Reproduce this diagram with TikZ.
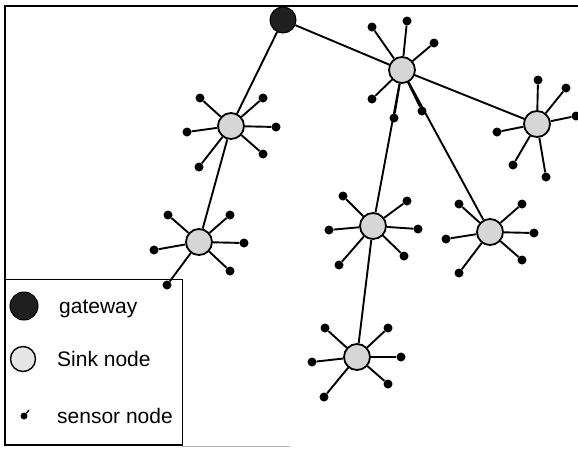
\documentclass[tikz,border=0pt]{standalone}
\usepackage{fontspec}
\setmainfont{Liberation Sans}
\begin{document}
\begin{tikzpicture}[x=1pt,y=-1pt,
  link/.style={line width=1.9pt},
  sink/.style={circle,draw,line width=1.8pt,fill=gray!32,minimum size=26pt,inner sep=0pt},
  gate/.style={circle,draw,line width=1pt,fill=black!88,minimum size=26pt,inner sep=0pt},
  sensor/.style={circle,fill=black,minimum size=9pt,inner sep=0pt},
  legtext/.style={anchor=base west,inner sep=0pt,font=\fontsize{21}{24}\selectfont}]
\useasboundingbox (0,0) rectangle (578,448);

% outer frame
\draw[line width=1.2pt] (578,6) -- (5,6) -- (5,445) -- (182,445);
\draw[line width=0.6pt,gray!60] (182,446) -- (290,446);

% gateway and sink nodes
\node[gate] (gw) at (283,20) {};
\node[sink] (sA) at (402,70) {};
\node[sink] (sB) at (231,126) {};
\node[sink] (sC) at (199,242) {};
\node[sink] (sD) at (537,124) {};
\node[sink] (sE) at (373,226) {};
\node[sink] (sF) at (490,232) {};
\node[sink] (sG) at (357,357) {};

% backbone links
\draw[link] (gw) -- (sA);
\draw[link] (gw) -- (sB);
\draw[link] (sB) -- (sC);
\draw[link] (sA) -- (sD);
\draw[link] (sA) -- (sE);
\draw[link] (sA) -- (sF);
\draw[link] (sE) -- (sG);

% sensor nodes around each sink
\foreach \x/\y [count=\i] in {372/27,407/21,434/43,372/99,394/118,422/111}
  {\node[sensor] (sA-\i) at (\x,\y) {}; \draw[link] (sA) -- (sA-\i);}
\foreach \x/\y [count=\i] in {200/98,263/98,276/127,187/132,263/154,199/167}
  {\node[sensor] (sB-\i) at (\x,\y) {}; \draw[link] (sB) -- (sB-\i);}
\foreach \x/\y [count=\i] in {168/215,230/215,244/243,154/250,230/271,167/285}
  {\node[sensor] (sC-\i) at (\x,\y) {}; \draw[link] (sC) -- (sC-\i);}
\foreach \x/\y [count=\i] in {538/80,566/88,576/116,497/132,513/165,546/177}
  {\node[sensor] (sD-\i) at (\x,\y) {}; \draw[link] (sD) -- (sD-\i);}
\foreach \x/\y [count=\i] in {343/196,407/201,418/229,329/230,404/256,339/265}
  {\node[sensor] (sE-\i) at (\x,\y) {}; \draw[link] (sE) -- (sE-\i);}
\foreach \x/\y [count=\i] in {459/204,522/204,534/233,446/239,522/260,459/273}
  {\node[sensor] (sF-\i) at (\x,\y) {}; \draw[link] (sF) -- (sF-\i);}
\foreach \x/\y [count=\i] in {325/328,388/328,401/357,312/362,388/384,324/397}
  {\node[sensor] (sG-\i) at (\x,\y) {}; \draw[link] (sG) -- (sG-\i);}

% legend
\node[draw,line width=1.2pt,anchor=north west,minimum width=177pt,minimum height=166pt,inner sep=0pt] (legend) at (5,279) {};
\node[gate,minimum size=28pt] (lgw) at (24,306) {};
\node[legtext] (lgwt) at (59,313) {gateway};
\node[sink,line width=1.4pt,fill=gray!20,minimum size=25pt] (lsk) at (23,359) {};
\node[legtext] (lskt) at (57,366) {Sink node};
\node[sensor,minimum size=7pt] (lsn) at (24,416) {};
\coordinate (lsntail) at (29,410);
\draw[line width=1.3pt] (lsn) -- (lsntail);
\node[legtext] (lsnt) at (57,423) {sensor node};
\end{tikzpicture}
\end{document}
